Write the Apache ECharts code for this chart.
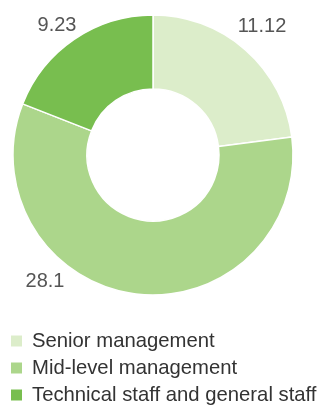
<!DOCTYPE html>
<html><head><meta charset="utf-8">
<script src="https://cdn.jsdelivr.net/npm/echarts@6/dist/echarts.min.js"></script>
<style>html,body{margin:0;padding:0;background:#fff}#c{width:323px;height:407px}</style>
</head><body><div id="c"></div>
<script>
const categories = ['Senior management', 'Mid-level management', 'Technical staff and general staff'];
const values = [11.12, 28.1, 9.23];
const valueLabels = ['11.12', '28.1', '9.23'];
const colors = ['#dcedca', '#acd68b', '#78be4f'];
const labelSpots = [[262, 26], [45, 281], [57, 25]];

const chart = echarts.init(document.getElementById('c'), null, {renderer: 'canvas'});
chart.setOption({
  animation: false,
  color: colors,
  legend: {
    orient: 'vertical', left: 11, top: 331, padding: 0,
    itemWidth: 11, itemHeight: 11, itemGap: 7,
    icon: 'rect',
    itemStyle: {borderWidth: 0},
    textStyle: {fontSize: 20.3, color: '#333', padding: [0, 0, 0, 5], fontFamily: 'Liberation Sans, Arial, sans-serif'},
    data: categories
  },
  series: [{
    type: 'pie',
    center: [153, 155],
    radius: [66, 140],
    startAngle: 90,
    clockwise: true,
    itemStyle: {borderColor: '#fff', borderWidth: 1.5},
    label: {
      show: true, position: 'outside', overflow: 'none',
      formatter: p => valueLabels[p.dataIndex],
      fontSize: 20, color: '#555', fontFamily: 'Liberation Sans, Arial, sans-serif'
    },
    labelLine: {show: false},
    labelLayout: p => ({x: labelSpots[p.dataIndex][0], y: labelSpots[p.dataIndex][1], align: 'center', verticalAlign: 'middle'}),
    emphasis: {disabled: true},
    data: categories.map((n, i) => ({name: n, value: values[i]}))
  }]
});
</script></body></html>
